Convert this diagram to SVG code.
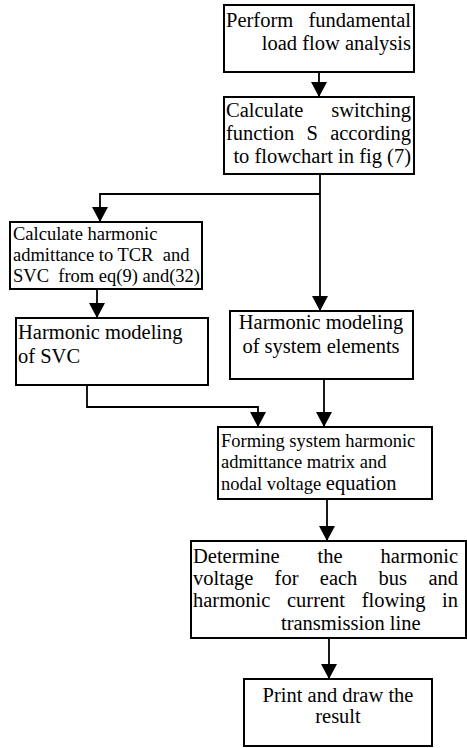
<svg xmlns="http://www.w3.org/2000/svg" width="467" height="748" viewBox="0 0 467 748" font-family="'Liberation Serif', 'Times New Roman', serif">
<style>
.box{fill:#fff;stroke:#000;stroke-width:2}
.ln{fill:none;stroke:#000;stroke-width:1.8}
.t{font-family:'Liberation Serif','Times New Roman',serif;font-size:20.5px;fill:#000}
.s{font-family:'Liberation Serif','Times New Roman',serif;font-size:18.5px;fill:#000}
</style>
<defs>
<marker id="ah" markerUnits="userSpaceOnUse" markerWidth="16" markerHeight="16" refX="15" refY="8" orient="auto" viewBox="0 0 16 16">
<path d="M0,0 L15,8 L0,16 Z" fill="#000"/>
</marker>
</defs>
<g id="connectors">
<line class="ln" x1="319" y1="72" x2="319" y2="97" marker-end="url(#ah)"/>
<line class="ln" x1="320" y1="174" x2="320" y2="311" marker-end="url(#ah)"/>
<polyline class="ln" points="320,194 100,194 100,222" marker-end="url(#ah)"/>
<line class="ln" x1="97" y1="289" x2="97" y2="318" marker-end="url(#ah)"/>
<polyline class="ln" points="87,385 87,407 258,407 258,427" marker-end="url(#ah)"/>
<line class="ln" x1="324" y1="379" x2="324" y2="427" marker-end="url(#ah)"/>
<line class="ln" x1="327" y1="499" x2="327" y2="541" marker-end="url(#ah)"/>
<line class="ln" x1="329" y1="638" x2="329" y2="679" marker-end="url(#ah)"/>
</g>
<g id="n1">
<rect class="box" x="224" y="5" width="190" height="67"/>
<text class="t" y="27"><tspan x="226">Perform</tspan><tspan x="411" text-anchor="end">fundamental</tspan></text>
<text class="t" x="411" y="50" text-anchor="end">load flow analysis</text>
</g>
<g id="n2">
<rect class="box" x="224" y="97" width="190" height="77"/>
<text class="t" y="117"><tspan x="226">Calculate</tspan><tspan x="411" text-anchor="end">switching</tspan></text>
<text class="t" y="140"><tspan x="226">function</tspan><tspan x="306.5">S</tspan><tspan x="411" text-anchor="end">according</tspan></text>
<text class="t" x="411" y="163" text-anchor="end">to flowchart in fig (7)</text>
</g>
<g id="n3">
<rect class="box" x="10" y="222" width="192" height="67"/>
<text class="s" x="13" y="240">Calculate harmonic</text>
<text class="s" x="13" y="261" xml:space="preserve">admittance to TCR  and</text>
<text class="s" x="13" y="282" xml:space="preserve">SVC  from eq(9) and(32)</text>
</g>
<g id="n4">
<rect class="box" x="16" y="318" width="192" height="67"/>
<text class="t" x="18" y="339">Harmonic modeling</text>
<text class="t" x="18" y="363">of SVC</text>
</g>
<g id="n5">
<rect class="box" x="230" y="311" width="183" height="68"/>
<text class="t" x="321" y="329" text-anchor="middle">Harmonic modeling</text>
<text class="t" x="321" y="353" text-anchor="middle">of system elements</text>
</g>
<g id="n6">
<rect class="box" x="218" y="427" width="214" height="72"/>
<text class="s" x="221" y="447">Forming system harmonic</text>
<text class="s" x="221" y="468">admittance matrix and</text>
<text class="s" x="221" y="490">nodal voltage <tspan font-size="20.5px">equation</tspan></text>
</g>
<g id="n7">
<rect class="box" x="191" y="541" width="275" height="97"/>
<text class="t" y="563"><tspan x="193">Determine</tspan><tspan x="317.5">the</tspan><tspan x="458" text-anchor="end">harmonic</tspan></text>
<text class="t" y="585"><tspan x="193">voltage</tspan><tspan x="274.6">for</tspan><tspan x="319.8">each</tspan><tspan x="378.6">bus</tspan><tspan x="458" text-anchor="end">and</tspan></text>
<text class="t" y="607"><tspan x="193">harmonic</tspan><tspan x="287">current</tspan><tspan x="361.7">flowing</tspan><tspan x="458" text-anchor="end">in</tspan></text>
<text class="t" x="281" y="630">transmission line</text>
</g>
<g id="n8">
<rect class="box" x="244" y="679" width="188" height="67"/>
<text class="t" x="338" y="702" text-anchor="middle">Print and draw the</text>
<text class="t" x="338" y="723" text-anchor="middle">result</text>
</g>
</svg>
